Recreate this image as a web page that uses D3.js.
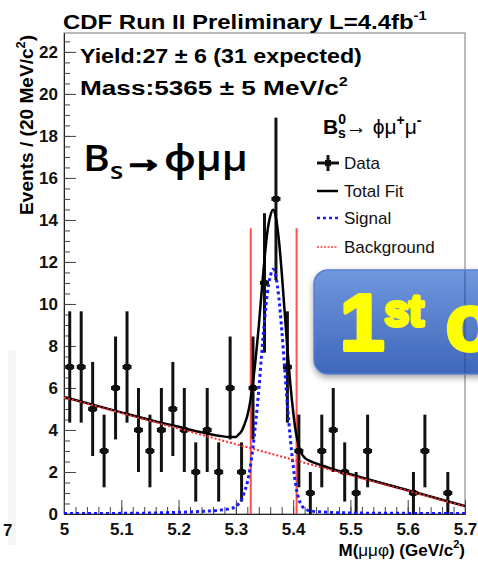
<!DOCTYPE html>
<html>
<head>
<meta charset="utf-8">
<script src="https://cdn.jsdelivr.net/npm/d3@7"></script>
<style>
  body { margin: 0; background: #fff; }
  svg { display: block; }
</style>
</head>
<body>
<svg id="grafico"></svg>
<script>
// Datos (bins de 20 MeV)
const centrosBin = [5.01, 5.03, 5.05, 5.07, 5.09, 5.11, 5.13, 5.15, 5.17, 5.19,
                    5.21, 5.23, 5.25, 5.27, 5.29, 5.31, 5.33, 5.35, 5.37, 5.39,
                    5.41, 5.43, 5.45, 5.47, 5.49, 5.51, 5.53, 5.55, 5.57, 5.59,
                    5.61, 5.63, 5.65, 5.67, 5.69];
const eventos = [7, 7, 5, 3, 6, 7, 4, 3, 4, 5,
                 4, 2, 4, 2, 6, 2, 6, 11, 15, 7,
                 3, 1, 3, 4, 2, 1, 3, 0, 0, 0,
                 1, 3, 0, 1, 0];
const errores = [2.65, 2.65, 2.24, 1.73, 2.45, 2.65, 2.0, 1.73, 2.0, 2.24,
                 2.0, 1.41, 2.0, 1.41, 2.45, 1.41, 2.45, 3.32, 3.87, 2.65,
                 1.73, 1.0, 1.73, 2.0, 1.41, 1.0, 1.73, 0, 0, 0,
                 1.0, 1.73, 0, 1.0, 0];

// Curvas del ajuste (masa, eventos)
const fondo = [[5.0, 5.55], [5.7, 0.36]];
const senal = [[5.00, 0.02], [5.10, 0.03], [5.16, 0.05], [5.20, 0.08], [5.24, 0.12],
               [5.27, 0.18], [5.29, 0.26], [5.30, 0.35], [5.305, 0.5], [5.31, 0.7],
               [5.315, 1.05], [5.32, 1.5], [5.325, 2.2], [5.33, 3.2], [5.335, 4.45],
               [5.34, 5.9], [5.345, 7.6], [5.35, 9.2], [5.355, 10.5], [5.36, 11.3],
               [5.365, 11.65], [5.37, 11.3], [5.375, 10.3], [5.38, 8.8], [5.385, 7.0],
               [5.39, 5.2], [5.395, 3.6], [5.40, 2.3], [5.405, 1.3], [5.41, 0.7],
               [5.415, 0.4], [5.42, 0.25], [5.43, 0.15], [5.45, 0.1], [5.50, 0.05],
               [5.60, 0.03], [5.70, 0.02]];
const ajusteTotal = [[5.00, 5.57], [5.10, 4.84], [5.16, 4.41], [5.20, 4.15], [5.24, 3.89],
                     [5.27, 3.73], [5.29, 3.66], [5.30, 3.67], [5.305, 3.79], [5.31, 3.95],
                     [5.315, 4.26], [5.32, 4.68], [5.325, 5.34], [5.33, 6.30], [5.335, 7.51],
                     [5.34, 8.93], [5.345, 10.59], [5.35, 12.15], [5.355, 13.42], [5.36, 14.18],
                     [5.365, 14.49], [5.37, 14.11], [5.375, 13.07], [5.38, 11.53], [5.385, 9.69],
                     [5.39, 7.86], [5.395, 6.22], [5.40, 4.88], [5.405, 3.85], [5.41, 3.21],
                     [5.415, 2.87], [5.42, 2.68], [5.43, 2.52], [5.45, 2.31], [5.50, 1.89],
                     [5.60, 1.13], [5.70, 0.38]];
const cortesMasa = [5.326, 5.406];
const alturaCortes = 13.6;

const ticksX = [5, 5.1, 5.2, 5.3, 5.4, 5.5, 5.6, 5.7];
const ticksY = [0, 2, 4, 6, 8, 10, 12, 14, 16, 18, 20, 22];
const entradasLeyenda = ["Data", "Total Fit", "Signal", "Background"];

var anchura = 478, altura = 563;
var fuente = "'Liberation Sans', Arial, Helvetica, sans-serif";

var svg = d3.select("#grafico")
    .attr("width", anchura)
    .attr("height", altura)
    .style("font-family", fuente);

var x = d3.scaleLinear().domain([5, 5.7]).range([64, 465]);
var y = d3.scaleLinear().domain([0, 22.9]).range([514, 33]);

var defs = svg.append("defs");
defs.append("clipPath").attr("id", "marco")
    .append("rect").attr("x", 64).attr("y", 33).attr("width", 401).attr("height", 481);
defs.append("clipPath").attr("id", "pagina")
    .append("rect").attr("x", 0).attr("y", 0).attr("width", anchura).attr("height", altura);

// Estirar texto horizontalmente hasta una anchura dada
function ajustarAncho(sel, x0, ancho) {
    var w = sel.node().getBBox().width;
    var s = ancho / w;
    sel.attr("transform", "translate(" + x0 + ",0) scale(" + s + ",1) translate(" + (-x0) + ",0)");
}

// Marco
svg.append("rect")
    .attr("x", 64).attr("y", 33).attr("width", 401).attr("height", 481)
    .attr("fill", "none").attr("stroke", "#777").attr("stroke-width", 1);

// Ejes
var ejeY = svg.append("g").attr("transform", "translate(64,0)")
    .call(d3.axisLeft(y).tickValues(ticksY).tickSize(-12).tickSizeOuter(0).tickPadding(6));
svg.append("g").attr("transform", "translate(64,0)")
    .call(d3.axisLeft(y).tickValues(d3.range(0, 22.9, 0.5)).tickSize(-6).tickSizeOuter(0).tickFormat(""));
var ejeX = svg.append("g").attr("transform", "translate(0,514)")
    .call(d3.axisBottom(x).tickValues(ticksX).tickSize(-14).tickSizeOuter(0).tickPadding(9)
        .tickFormat(function (d) { return d === 5 ? "5" : d3.format(".1f")(d); }));
svg.append("g").attr("transform", "translate(0,514)")
    .call(d3.axisBottom(x).tickValues(d3.range(5, 5.7001, 0.02)).tickSize(-7).tickSizeOuter(0).tickFormat(""));

svg.selectAll(".domain").attr("stroke", "#222");
svg.selectAll(".tick line").attr("stroke", "#444");
ejeY.selectAll("text").style("font", "bold 17px " + fuente).attr("fill", "#111");
ejeX.selectAll("text").style("font", "bold 17px " + fuente).attr("fill", "#111");

// Titulos de los ejes
var tituloY = svg.append("text")
    .attr("x", 0).attr("y", 0)
    .style("font", "bold 18px " + fuente)
    .attr("text-anchor", "end");
tituloY.append("tspan").text("Events / (20 MeV/c");
tituloY.append("tspan").text("2").attr("font-size", 12).attr("dy", -8);
tituloY.append("tspan").text(")").attr("dy", 8);
var largoY = tituloY.node().getBBox().width;
tituloY.attr("transform", "translate(33,35) rotate(-90) scale(" + (180 / largoY) + ",1)");

var tituloX = svg.append("text")
    .attr("x", 465).attr("y", 556)
    .attr("text-anchor", "end")
    .style("font", "bold 17px " + fuente);
tituloX.append("tspan").text("M(");
tituloX.append("tspan").text("μμφ").attr("font-weight", "normal");
tituloX.append("tspan").text(") (GeV/c");
tituloX.append("tspan").text("2").attr("font-size", 11).attr("dy", -8);
tituloX.append("tspan").text(")").attr("dy", 8);

// Area del grafico
var plot = svg.append("g").attr("clip-path", "url(#marco)");

var linea = d3.line()
    .x(function (d) { return x(d[0]); })
    .y(function (d) { return y(d[1]); })
    .curve(d3.curveMonotoneX);

// Cortes de masa
plot.selectAll(".corte")
    .data(cortesMasa)
    .join("line")
    .attr("class", "corte")
    .attr("x1", function (d) { return x(d); })
    .attr("x2", function (d) { return x(d); })
    .attr("y1", y(0))
    .attr("y2", y(alturaCortes))
    .attr("stroke", "#ff4d4d")
    .attr("stroke-width", 2);

// Datos
var puntos = centrosBin.map(function (c, i) { return { m: c, n: eventos[i], e: errores[i] }; })
    .filter(function (d) { return d.n > 0; });

var gPuntos = plot.selectAll(".punto")
    .data(puntos)
    .join("g")
    .attr("class", "punto");
gPuntos.append("line")
    .attr("x1", function (d) { return x(d.m); })
    .attr("x2", function (d) { return x(d.m); })
    .attr("y1", function (d) { return y(d.n - d.e); })
    .attr("y2", function (d) { return y(d.n + d.e); })
    .attr("stroke", "#111").attr("stroke-width", 3);
gPuntos.append("line")
    .attr("x1", function (d) { return x(d.m) - 4.5; })
    .attr("x2", function (d) { return x(d.m) + 4.5; })
    .attr("y1", function (d) { return y(d.n); })
    .attr("y2", function (d) { return y(d.n); })
    .attr("stroke", "#111").attr("stroke-width", 4);
gPuntos.append("rect")
    .attr("x", function (d) { return x(d.m) - 3; })
    .attr("y", function (d) { return y(d.n) - 3; })
    .attr("width", 6).attr("height", 6)
    .attr("fill", "#111");

// Curvas
plot.append("path").datum(ajusteTotal)
    .attr("d", linea)
    .attr("fill", "none").attr("stroke", "#000").attr("stroke-width", 2.5);
plot.append("path").datum(senal)
    .attr("d", linea)
    .attr("fill", "none").attr("stroke", "#1a1aff").attr("stroke-width", 3)
    .attr("stroke-dasharray", "3,3");
plot.append("path").datum(fondo)
    .attr("d", linea)
    .attr("fill", "none").attr("stroke", "#ff2a2a").attr("stroke-width", 2)
    .attr("stroke-dasharray", "2,2");

// Titulo
var titulo = svg.append("text")
    .attr("x", 63).attr("y", 29)
    .style("font", "bold 21px " + fuente);
titulo.append("tspan").text("CDF Run II Preliminary L=4.4fb");
titulo.append("tspan").text("-1").attr("font-size", 13).attr("dy", -9);
ajustarAncho(titulo, 63, 364);

// Textos del resultado
var rendimiento = svg.append("text")
    .attr("x", 80).attr("y", 63)
    .style("font", "bold 21px " + fuente)
    .text("Yield:27 ± 6 (31 expected)");
ajustarAncho(rendimiento, 80, 282);

var masa = svg.append("text")
    .attr("x", 80).attr("y", 95)
    .style("font", "bold 21px " + fuente);
masa.append("tspan").text("Mass:5365 ± 5 MeV/c");
masa.append("tspan").text("2").attr("font-size", 13).attr("dy", -9);
ajustarAncho(masa, 80, 268);

// Texto grande Bs -> phi mu mu
var grande = svg.append("text")
    .attr("x", 83).attr("y", 171)
    .style("font-family", "'Open Sans', 'Noto Sans', sans-serif")
    .style("font-weight", 600)
    .style("font-size", "36px")
    .attr("fill", "#000");
grande.append("tspan").text("B");
grande.append("tspan").text("s").attr("font-size", 24).attr("dy", 8);
grande.append("tspan").text("→").attr("dy", -8).attr("font-weight", 700)
    .attr("stroke", "#000").attr("stroke-width", 2.5);
grande.append("tspan").text("ϕμμ");
ajustarAncho(grande, 83, 165);

// Leyenda
var cabecera = svg.append("text")
    .attr("x", 323).attr("y", 134)
    .style("font", "bold 21px " + fuente);
cabecera.append("tspan").text("B");
cabecera.append("tspan").text("0").attr("font-size", 14).attr("dy", -10);
cabecera.append("tspan").text("s").attr("font-size", 14).attr("x", 338).attr("dy", 14);
cabecera.append("tspan").text("→ ϕμ").attr("font-weight", "normal").attr("font-size", 21).attr("dy", -4);
cabecera.append("tspan").text("+").attr("font-size", 14).attr("dy", -9);
cabecera.append("tspan").text("μ").attr("font-weight", "normal").attr("font-size", 21).attr("dy", 9);
cabecera.append("tspan").text("-").attr("font-size", 14).attr("dy", -9);

var filaY = [163, 191, 218, 247];
var leyenda = svg.selectAll(".leyenda")
    .data(entradasLeyenda)
    .join("g")
    .attr("class", "leyenda")
    .attr("transform", function (d, i) { return "translate(0," + filaY[i] + ")"; });
leyenda.append("text")
    .attr("x", 344).attr("y", 6)
    .style("font", "17px " + fuente)
    .attr("fill", "#111")
    .text(function (d) { return d; });

leyenda.filter(function (d, i) { return i === 0; }).each(function () {
    var g = d3.select(this);
    g.append("line").attr("x1", 317).attr("x2", 339).attr("y1", 0).attr("y2", 0)
        .attr("stroke", "#111").attr("stroke-width", 3);
    g.append("line").attr("x1", 328).attr("x2", 328).attr("y1", -8).attr("y2", 8)
        .attr("stroke", "#111").attr("stroke-width", 3);
    g.append("rect").attr("x", 325).attr("y", -3).attr("width", 6).attr("height", 6).attr("fill", "#111");
});
leyenda.filter(function (d, i) { return i > 0; })
    .append("line")
    .attr("x1", 317).attr("x2", 338).attr("y1", 0).attr("y2", 0)
    .attr("stroke", function (d, i) { return ["#000", "#1a1aff", "#ff6f6f"][i]; })
    .attr("stroke-width", function (d, i) { return [2.5, 2.5, 2][i]; })
    .attr("stroke-dasharray", function (d, i) { return ["none", "3,3", "2,1.5"][i]; });

// Recuadro azul "1st observation" (cortado por el borde derecho)
var grad = defs.append("linearGradient").attr("id", "azul")
    .attr("x1", 0).attr("y1", 0).attr("x2", 0).attr("y2", 1);
grad.append("stop").attr("offset", "0%").attr("stop-color", "#7097de");
grad.append("stop").attr("offset", "100%").attr("stop-color", "#3e67ba");
var sombra = defs.append("filter").attr("id", "sombra")
    .attr("x", "-10%").attr("y", "-10%").attr("width", "130%").attr("height", "140%");
sombra.append("feDropShadow").attr("dx", 0).attr("dy", 3).attr("stdDeviation", 3)
    .attr("flood-color", "#000").attr("flood-opacity", 0.35);

var recuadro = svg.append("g").attr("clip-path", "url(#pagina)");
recuadro.append("rect")
    .attr("x", 314).attr("y", 270).attr("width", 210).attr("height", 104).attr("rx", 14)
    .attr("fill", "url(#azul)")
    .attr("stroke", "#5a7fcf").attr("stroke-width", 1.5)
    .attr("filter", "url(#sombra)");
recuadro.append("line")
    .attr("x1", 465).attr("x2", 465).attr("y1", 271).attr("y2", 373)
    .attr("stroke", "#27448a").attr("stroke-width", 1).attr("opacity", 0.8);

var primero = recuadro.append("text")
    .attr("x", 340).attr("y", 350)
    .style("font", "bold 80px " + fuente)
    .attr("fill", "#ffff00")
    .attr("stroke", "#ffff00").attr("stroke-width", 4)
    .attr("stroke-linejoin", "round");
primero.append("tspan").text("1");
primero.append("tspan").text("st").attr("font-size", 44).attr("dy", -24);
primero.append("tspan").text(" observation").attr("dy", 24);

// Restos del lado izquierdo
svg.append("rect").attr("x", 8).attr("y", 350).attr("width", 8).attr("height", 195).attr("fill", "#f6f6f6");
svg.append("text").attr("x", 3).attr("y", 536)
    .style("font", "bold 17px " + fuente).attr("fill", "#111").text("7");
</script>
</body>
</html>
